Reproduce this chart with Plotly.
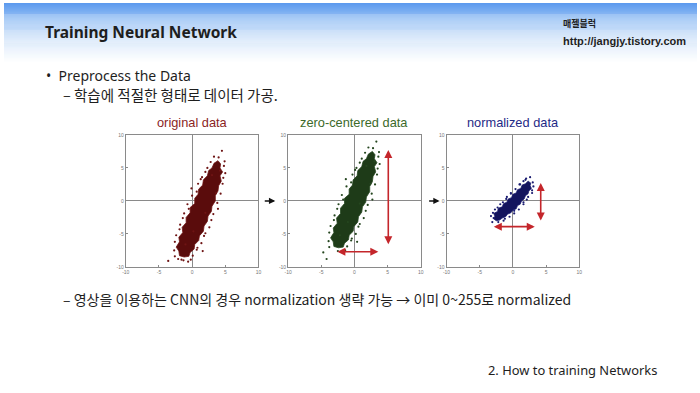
import plotly.graph_objects as go

# ---------------- data ----------------
panel_titles = ["original data", "zero-centered data", "normalized data"]
tick_vals = [-10, -5, 0, 5, 10]
tick_text = ["-10", "-5", "0", "5", "10"]

# dense core outline of each point cloud (x, y)
orig_core_x = [3.9, 4.3, 4.2, 4.6, 4.2, 4.4, 4.0, 3.9, 3.5, 3.5, 3.0, 2.9, 2.4, 2.3, 1.8, 1.7, 1.1, 1.0, 0.4, 0.3, -0.3, -0.5, -1.2,
               -1.9, -2.0, -2.4, -1.9, -2.0, -1.4, -1.5, -0.9, -0.9, -0.3, -0.3, 0.4, 0.4, 0.9, 1.0, 1.6, 1.7, 2.3, 2.5, 3.0, 3.3]
orig_core_y = [6.1, 5.6, 5.0, 4.4, 3.8, 3.0, 2.3, 1.5, 0.8, 0.0, -0.8, -1.6, -2.3, -3.1, -3.8, -4.6, -5.3, -6.0, -6.6, -7.3, -7.8, -8.4, -8.5,
               -8.3, -7.6, -7.0, -6.2, -5.5, -4.8, -4.0, -3.3, -2.5, -1.8, -1.0, -0.4, 0.4, 1.0, 1.8, 2.4, 3.2, 3.8, 4.6, 5.0, 5.7]
orig_pts_x = [4.5, 4.9, 3.3, 5.0, 4.6, 3.8, 2.9, 1.8, 0.7, -0.2, -1.3, -2.6, -3.6, -2.1, -1.6, -2.6, -1.9, -1.4, -0.5, -0.1,
              0.7, 1.5, 2.3, 4.2, 3.6, 2.0, 0.2, -1.0, 4.0, 3.0, 4.8, 4.7, 4.3, 3.9, 3.2, 2.6, 2.0, 1.4, 0.8, 0.1, -2.7,
              -2.4, -1.8, -1.2, -0.7, 0.0, 0.9, 1.3, 2.0, 2.8, -0.6, 1.6]
orig_pts_y = [7.6, 6.0, 6.7, 4.2, 2.6, -0.3, -2.9, -5.3, -7.4, -8.9, -9.0, -8.4, -9.1, -8.8, -8.9, -6.2, -4.3, -2.6, -1.2, 1.9,
              1.4, 3.6, 5.0, 4.6, 1.2, -1.8, -4.6, -6.6, 6.6, 3.9, 5.3, 3.5, 1.1, -1.2, -2.0, -4.0, -4.9, -6.4, -7.1, -8.3, -7.5,
              -5.2, -3.6, -1.9, -0.5, 0.8, 2.6, 3.3, 4.4, 5.9, -9.2, -7.6]

zc_core_x = [2.7, 3.1, 3.0, 3.4, 3.0, 3.2, 2.8, 2.7, 2.3, 2.3, 1.8, 1.7, 1.2, 1.1, 0.6, 0.5, -0.1, -0.2, -0.8, -0.9, -1.5, -1.7, -2.4,
             -3.1, -3.2, -3.6, -3.1, -3.2, -2.6, -2.7, -2.1, -2.1, -1.5, -1.5, -0.8, -0.8, -0.3, -0.2, 0.4, 0.5, 1.1, 1.3, 1.8, 2.1]
zc_core_y = [7.5, 7.0, 6.4, 5.8, 5.2, 4.4, 3.7, 2.9, 2.2, 1.4, 0.6, -0.2, -0.9, -1.7, -2.4, -3.2, -3.9, -4.6, -5.2, -5.9, -6.4, -7.0, -7.1,
             -6.9, -6.2, -5.6, -4.8, -4.1, -3.4, -2.6, -1.9, -1.1, -0.4, 0.4, 1.0, 1.8, 2.4, 3.2, 3.8, 4.6, 5.2, 6.0, 6.4, 7.1]
zc_pts_x = [3.3, 3.7, 2.1, 3.8, 3.4, 2.6, 1.7, 0.6, -0.5, -1.4, -2.5, -3.8, -4.7, -4.2, -3.8, -3.1, -2.6, -1.7, -1.3, -0.5,
            0.3, 1.1, 3.0, 2.4, 0.8, -1.0, -2.2, 2.8, 1.8, 3.6, 3.5, 3.1, 2.7, 2.0, 1.4, 0.8, 0.2, -0.4, -1.1, -3.9, -3.6,
            -3.0, -2.4, -1.9, -1.2, -0.3, 0.1, 0.8, 1.6, -1.8, 0.4]
zc_pts_y = [9.0, 7.4, 8.1, 5.6, 4.0, 1.1, -1.5, -3.9, -6.0, -7.5, -7.6, -7.0, -7.8, -8.8, -4.8, -2.9, -1.2, 0.2, 3.3, 2.8,
            5.0, 6.4, 6.0, 2.6, -0.4, -3.2, -5.2, 8.0, 5.3, 6.7, 4.9, 2.5, 0.2, -0.6, -2.6, -3.5, -5.0, -5.7, -6.9, -6.1, -3.8,
            -2.2, -0.5, 0.9, 2.2, 4.0, 4.7, 5.8, 7.3, -7.8, -6.2]

norm_core_x = [2.3, 2.7, 2.6, 2.8, 2.4, 2.3, 1.9, 1.7, 1.3, 1.1, 0.7, 0.5, 0.0, -0.3, -0.8, -1.1, -1.6, -2.0, -2.5,
               -2.9, -2.7, -2.9, -2.3, -2.2, -1.6, -1.4, -0.9, -0.7, -0.2, 0.0, 0.5, 0.7, 1.2, 1.4, 1.9]
norm_core_y = [3.0, 2.7, 2.3, 1.9, 1.5, 1.1, 0.8, 0.3, 0.0, -0.5, -0.7, -1.2, -1.4, -1.8, -2.0, -2.4, -2.6, -2.9, -3.0,
               -2.7, -2.3, -1.9, -1.6, -1.1, -0.9, -0.4, -0.2, 0.3, 0.5, 1.0, 1.2, 1.7, 1.9, 2.4, 2.6]
norm_pts_x = [2.6, 3.0, 2.9, 1.9, 1.0, -0.3, -1.5, -2.3, -3.1, -2.9, -2.2, -1.2, 0.2, 1.6, 2.3, -3.0, 2.0, -0.9,
              3.1, 2.9, 2.1, 1.6, 0.9, 0.2, -0.5, -1.4, -3.3, -2.7, -1.9, -1.0, -0.3, 0.4, 1.1, 1.6]
norm_pts_y = [3.6, 2.8, 1.6, 3.2, 2.5, 1.2, -0.2, -1.0, -3.2, -2.6, -3.2, -2.7, -1.5, -0.2, 0.6, -1.8, 3.4, 0.6,
              2.2, 1.2, 0.2, -0.5, -1.3, -1.9, -2.4, -3.0, -2.3, -1.3, -0.5, 0.3, 1.1, 1.8, 2.5, 3.0]

# spread arrows (x0, y0, x1, y1) for panel 2 and 3
zc_arrows = [[5.1, -6.8, 5.1, 7.7], [-2.8, -7.7, 3.6, -7.7]]
norm_arrows = [[4.2, -3.2, 4.2, 2.7], [-3.1, -3.9, 3.3, -3.9]]

# ---------------- figure ----------------
W, H = 700, 393
fig = go.Figure()


def px(x):
    return x / W


def py(y):
    return 1 - y / H


panels = [
    (orig_core_x, orig_core_y, orig_pts_x, orig_pts_y, "#5a0c0c", "#6e1414", "#8b1f1f"),
    (zc_core_x, zc_core_y, zc_pts_x, zc_pts_y, "#1e3b18", "#25461f", "#3c6a2a"),
    (norm_core_x, norm_core_y, norm_pts_x, norm_pts_y, "#13145e", "#1a1c70", "#1f2a86"),
]
domains_x = [(123, 257), (287, 421), (447, 581)]
ydom = [py(268), py(134)]

for i, (cx, cy, sx, sy, fillc, ptc, titc) in enumerate(panels):
    xa = "x" if i == 0 else f"x{i+1}"
    ya = "y" if i == 0 else f"y{i+1}"
    fig.add_trace(go.Scatter(x=cx + [cx[0]], y=cy + [cy[0]], mode="lines", fill="toself",
                             fillcolor=fillc, line=dict(color=ptc, width=0.8),
                             xaxis=xa, yaxis=ya, hoverinfo="skip", showlegend=False))
    fig.add_trace(go.Scatter(x=sx, y=sy, mode="markers",
                             marker=dict(size=2.2, color=ptc, line=dict(width=0)),
                             xaxis=xa, yaxis=ya, showlegend=False))
    axkw = dict(range=[-10, 10], showgrid=False, zeroline=True, zerolinecolor="#8a8a8a",
                zerolinewidth=1, showline=True, linecolor="#8a8a8a", linewidth=1, mirror=True,
                tickvals=tick_vals, ticktext=tick_text, ticks="inside", ticklen=2,
                tickcolor="#8a8a8a", tickfont=dict(size=5, color="#777777", family="Liberation Sans"),
                fixedrange=True)
    xkey = "xaxis" if i == 0 else f"xaxis{i+1}"
    ykey = "yaxis" if i == 0 else f"yaxis{i+1}"
    fig.update_layout(**{
        xkey: dict(domain=[px(domains_x[i][0]), px(domains_x[i][1])], anchor=ya, **axkw),
        ykey: dict(domain=ydom, anchor=xa, **axkw),
    })
    cxp = (domains_x[i][0] + domains_x[i][1]) / 2
    fig.add_annotation(x=px(cxp), y=py(121), xref="paper", yref="paper", text=panel_titles[i],
                       showarrow=False, font=dict(size=12.8, color=titc, family="Liberation Sans"),
                       xanchor="center", yanchor="middle")

# spread arrows
for arrs, xa, ya in [(zc_arrows, "x2", "y2"), (norm_arrows, "x3", "y3")]:
    for x0, y0, x1, y1 in arrs:
        fig.add_annotation(x=x1, y=y1, ax=x0, ay=y0, xref=xa, yref=ya, axref=xa, ayref=ya,
                           showarrow=True, arrowhead=2, arrowside="end+start", arrowsize=1,
                           arrowwidth=1.6, arrowcolor="#c4262b", text="")

# arrows between panels
for xe in [274, 440]:
    fig.add_annotation(x=px(xe), y=py(201), xref="paper", yref="paper", ax=-12, ay=0,
                       showarrow=True, arrowhead=2, arrowsize=0.9, arrowwidth=1.4,
                       arrowcolor="#111111", text="")

# header gradient
stops = [(0, (92, 154, 238)), (18, (160, 198, 245)), (40, (220, 234, 250)), (60, (255, 255, 255))]
shapes = []
for y in range(60):
    for j in range(len(stops) - 1):
        if stops[j][0] <= y <= stops[j + 1][0]:
            t = (y - stops[j][0]) / (stops[j + 1][0] - stops[j][0])
            c = [round(stops[j][1][m] + t * (stops[j + 1][1][m] - stops[j][1][m])) for m in range(3)]
            break
    shapes.append(dict(type="rect", xref="paper", yref="paper", x0=0, x1=1, y0=py(y + 1.05), y1=py(y),
                       fillcolor=f"rgb({c[0]},{c[1]},{c[2]})", line=dict(width=0), layer="below"))

txt = "#1e1e1e"


def label(x, y, text, size, family):
    fig.add_annotation(x=px(x), y=py(y), xref="paper", yref="paper", text=text,
                       showarrow=False, xanchor="left", yanchor="middle", borderpad=0,
                       font=dict(size=size, color=txt, family=family))


label(40, 29, "<b>Training Neural Network</b>", 15.5, "Noto Sans")
label(564, 21, "<b>매젤블럭</b>", 9, "Noto Sans CJK KR")
label(564, 39, "<b>http://jangjy.tistory.com</b>", 11, "Liberation Sans")
label(41, 74, "•  Preprocess the Data", 14, "Noto Sans")
label(59, 93, "– 학습에 적절한 형태로 데이터 가공.", 14.5, "Noto Sans CJK KR")
label(59, 301, "– 영상을 이용하는 CNN의 경우 normalization 생략 가능 → 이미 0~255로 normalized", 14, "Noto Sans CJK KR")
label(488, 373, "2. How to training Networks", 12.9, "Noto Sans")

fig.update_layout(width=W, height=H, margin=dict(l=0, r=0, t=0, b=0),
                  paper_bgcolor="white", plot_bgcolor="rgba(0,0,0,0)", shapes=shapes,
                  showlegend=False)

fig.write_html("out.html", config={"displayModeBar": False},
               post_script="document.body.style.margin='0';document.body.style.padding='0';")
